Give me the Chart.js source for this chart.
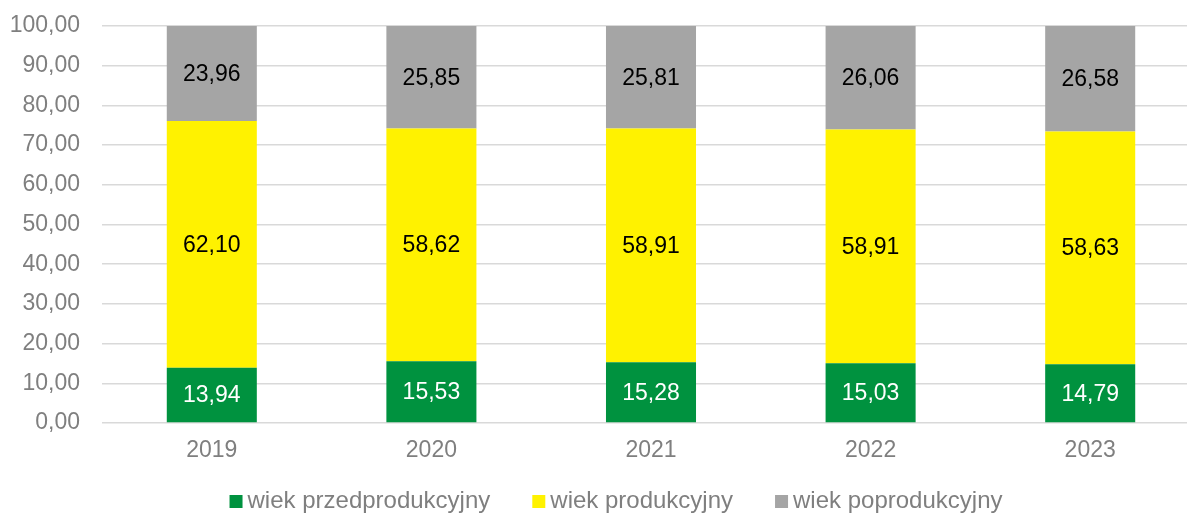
<!DOCTYPE html>
<html lang="pl">
<head>
<meta charset="utf-8">
<title>Struktura ludności według ekonomicznych grup wieku</title>
<script src="https://cdn.jsdelivr.net/npm/chart.js"></script>
<style>
  html, body { margin: 0; padding: 0; background: #fff; overflow: hidden; }
  #wykres { display: block; }
</style>
</head>
<body>
<canvas id="wykres" width="1200" height="513"></canvas>
<script>
// dane: udział grup wieku w ogóle ludności (%)
const lata = ['2019', '2020', '2021', '2022', '2023'];
const przedprodukcyjny = [13.94, 15.53, 15.28, 15.03, 14.79];
const produkcyjny = [62.10, 58.62, 58.91, 58.91, 58.63];
const poprodukcyjny = [23.96, 25.85, 25.81, 26.06, 26.58];
const nazwySerii = ['wiek przedprodukcyjny', 'wiek produkcyjny', 'wiek poprodukcyjny'];

const kolory = ['#00923f', '#fff200', '#a5a5a5'];
const koloryEtykiet = ['#ffffff', '#000000', '#000000'];
const czcionka = '"Liberation Sans", Arial, sans-serif';
const szary = '#7f7f7f';

function formatPL(v) {
    return Number(v).toFixed(2).replace('.', ',');
}

// wartości wypisane na środku każdego segmentu
const etykietyWartosci = {
    id: 'etykietyWartosci',
    afterDatasetsDraw(chart) {
        const ctx = chart.ctx;
        ctx.save();
        ctx.font = '23px ' + czcionka;
        ctx.textAlign = 'center';
        ctx.textBaseline = 'middle';
        chart.data.datasets.forEach((ds, i) => {
            const meta = chart.getDatasetMeta(i);
            ctx.fillStyle = koloryEtykiet[i];
            meta.data.forEach((bar, j) => {
                const y = (bar.y + bar.base) / 2;
                ctx.fillText(formatPL(ds.data[j]), bar.x, y + 1);
            });
        });
        ctx.restore();
    }
};

// legenda pod osią X: mały kwadrat + opis
const legendaDolna = {
    id: 'legendaDolna',
    afterDraw(chart) {
        const ctx = chart.ctx;
        const bok = 13, odstepTekst = 5, odstepPoz = 42;
        const srodek = 616, linia = 508;
        ctx.save();
        ctx.font = '24px ' + czcionka;
        const pozycje = chart.data.datasets.map(ds => ({
            tekst: ds.label,
            kolor: ds.backgroundColor,
            w: ctx.measureText(ds.label).width
        }));
        const razem = pozycje.reduce((s, p) => s + bok + odstepTekst + p.w, 0) + odstepPoz * (pozycje.length - 1);
        let x = srodek - razem / 2;
        ctx.textBaseline = 'alphabetic';
        ctx.textAlign = 'left';
        pozycje.forEach(p => {
            ctx.fillStyle = p.kolor;
            ctx.fillRect(x, linia - bok, bok, bok);
            x += bok + odstepTekst;
            ctx.fillStyle = szary;
            ctx.fillText(p.tekst, x, linia);
            x += p.w + odstepPoz;
        });
        ctx.restore();
    }
};

const serie = [przedprodukcyjny, produkcyjny, poprodukcyjny];

new Chart(document.getElementById('wykres'), {
    type: 'bar',
    data: {
        labels: lata,
        datasets: serie.map((dane, i) => ({
            label: nazwySerii[i],
            data: dane,
            backgroundColor: kolory[i],
            borderWidth: 0,
            barPercentage: 0.41,
            categoryPercentage: 1
        }))
    },
    options: {
        responsive: false,
        animation: false,
        devicePixelRatio: 1,
        layout: { padding: { top: 26, right: 0, bottom: 50, left: 0 } },
        plugins: {
            legend: { display: false },
            tooltip: { enabled: false }
        },
        scales: {
            x: {
                stacked: true,
                grid: { display: false, drawTicks: false },
                border: { display: false },
                ticks: {
                    color: szary,
                    font: { family: czcionka, size: 23 },
                    padding: 14,
                    maxRotation: 0
                },
                afterFit(scale) { scale.height = 40; }
            },
            y: {
                stacked: true,
                min: 0,
                max: 100,
                grid: { color: '#d9d9d9', lineWidth: 1.5, drawTicks: false },
                border: { display: false },
                ticks: {
                    stepSize: 10,
                    color: szary,
                    font: { family: czcionka, size: 23 },
                    padding: 22,
                    callback: v => formatPL(v)
                },
                afterFit(scale) {
                    scale.width = 102;
                    scale.paddingTop = 0;
                }
            }
        }
    },
    plugins: [etykietyWartosci, legendaDolna]
});
</script>
</body>
</html>
